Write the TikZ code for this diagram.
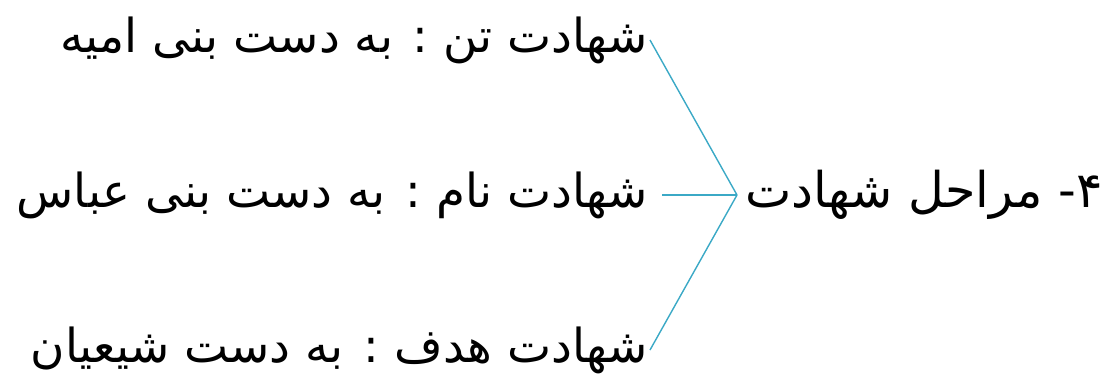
\documentclass[tikz,border=0pt]{standalone}
\usepackage{fontspec}
\newfontfamily\arabicfont[Script=Arabic]{DejaVu Sans}
\TeXXeTstate=1
\usetikzlibrary{positioning}
\definecolor{linkblue}{RGB}{59,169,198}
\tikzset{
  leaf/.style={anchor=east, inner sep=2pt, font=\arabicfont\fontsize{40}{46}\selectfont},
  stage/.style={anchor=west, inner sep=2pt, font=\arabicfont\fontsize{42}{48}\selectfont},
  link/.style={draw=linkblue, line width=1.2pt}
}
\begin{document}
\begin{tikzpicture}[x=0.03cm, y=-0.03cm]
\useasboundingbox (0,0) rectangle (1115,390);
\coordinate (hub) at (737,195);
\node[stage] (stages) at (743,195) {\beginR ۴- مراحل شهادت\endR};
\node[leaf] (body) at (650,40) {\beginR شهادت تن : به دست بنی امیه\endR};
\node[leaf] (name) at (650,195) {\beginR شهادت نام : به دست بنی عباس\endR};
\node[leaf] (goal) at (650,350) {\beginR شهادت هدف : به دست شیعیان\endR};
\draw[link] (hub) -- (body.east);
\draw[link, shorten >=10pt] (hub) -- (name.east);
\draw[link] (hub) -- (goal.east);
\end{tikzpicture}
\end{document}
